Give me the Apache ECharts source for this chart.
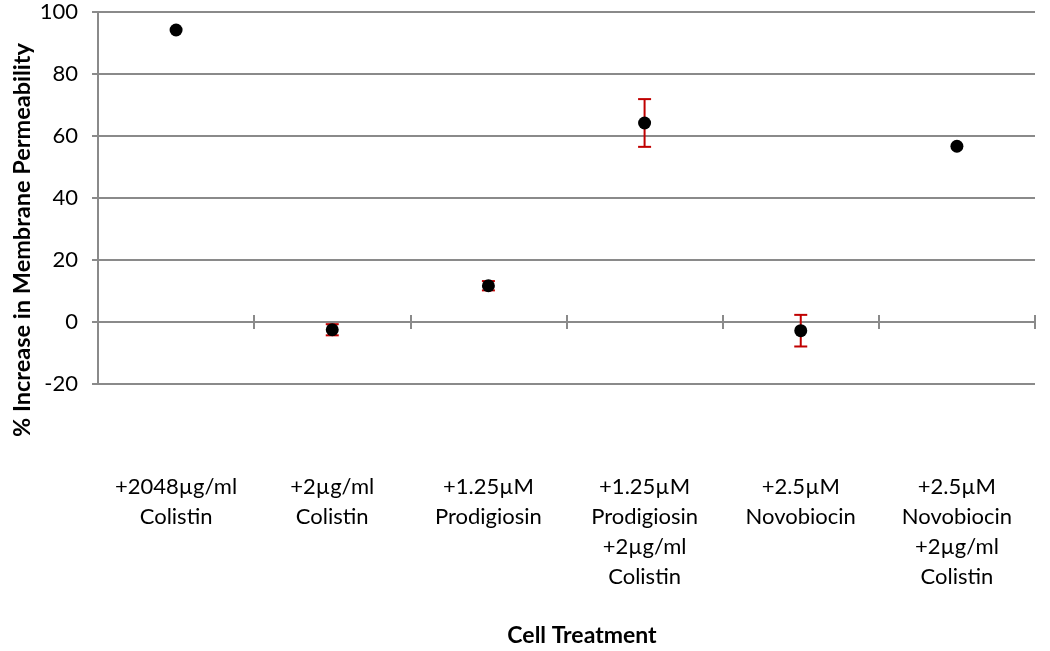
<!DOCTYPE html>
<html><head><meta charset="utf-8">
<script src="https://cdn.jsdelivr.net/npm/echarts@6/dist/echarts.min.js"></script>
<style>html,body{margin:0;padding:0;background:#fff;overflow:hidden}#c{width:1050px;height:651px}</style>
</head><body><div id="c"></div>
<script>
const categories = ['+2048µg/ml\nColistin', '+2µg/ml\nColistin', '+1.25µM\nProdigiosin', '+1.25µM\nProdigiosin\n+2µg/ml\nColistin', '+2.5µM\nNovobiocin', '+2.5µM\nNovobiocin\n+2µg/ml\nColistin'];
const means = [94.2, -2.5, 11.7, 64.2, -2.8, 56.7];
const errors = [0, 1.8, 1.5, 7.7, 5.1, 0];
const yTicks = { min: -20, max: 100, interval: 20 };
const yTitle = '% Increase in Membrane Permeability';
const xTitle = 'Cell Treatment';

const FONT = 'Lato';
const GRAY = '#8a8a8a';
const chart = echarts.init(document.getElementById('c'));
const errData = categories.map((c, i) => [i, means[i], errors[i]]);
chart.setOption({
  animation: false,
  grid: { left: 98, width: 937, top: 12, height: 372, containLabel: false },
  xAxis: [{
    type: 'category', data: categories, position: 'bottom', boundaryGap: true,
    axisLine: { onZero: true, onZeroAxisIndex: 0, lineStyle: { color: GRAY, width: 2 } },
    axisTick: { show: true, interval: 0, length: 7, lineStyle: { color: GRAY, width: 2 } },
    axisLabel: { interval: 0, margin: 88, fontFamily: FONT, fontSize: 22, color: '#000', lineHeight: 30, verticalAlign: 'top' },
    splitLine: { show: false }
  }, {
    type: 'category', data: categories, position: 'top', boundaryGap: true,
    axisLine: { show: false, onZero: true, onZeroAxisIndex: 0 },
    axisTick: { show: true, interval: 0, length: 7, lineStyle: { color: GRAY, width: 2 } },
    axisLabel: { show: false }, splitLine: { show: false }
  }],
  yAxis: {
    type: 'value', min: yTicks.min, max: yTicks.max, interval: yTicks.interval,
    axisLine: { show: true, lineStyle: { color: GRAY, width: 2 } },
    axisTick: { show: true, length: 6, lineStyle: { color: GRAY, width: 2 } },
    axisLabel: { margin: 20, fontFamily: FONT, fontSize: 22, color: '#000' },
    splitLine: { show: true, lineStyle: { color: GRAY, width: 2 } }
  },
  graphic: [
    { type: 'text', x: 22, y: 240, rotation: Math.PI / 2,
      style: { text: yTitle, font: 'bold 23.5px ' + FONT, fill: '#000', textAlign: 'center', textVerticalAlign: 'middle' } },
    { type: 'text', x: 582, y: 636,
      style: { text: xTitle, font: 'bold 23px ' + FONT, fill: '#000', textAlign: 'center', textVerticalAlign: 'middle' } }
  ],
  series: [{
    type: 'custom', xAxisIndex: 0, data: errData, z: 2,
    renderItem: function (params, api) {
      const e = api.value(2);
      if (!e) return null;
      const x = api.coord([api.value(0), 0])[0];
      const top = api.coord([api.value(0), api.value(1) + e])[1];
      const bot = api.coord([api.value(0), api.value(1) - e])[1];
      const w = 6.5;
      const st = { stroke: '#c00000', lineWidth: 2 };
      return { type: 'group', children: [
        { type: 'line', shape: { x1: x, y1: top, x2: x, y2: bot }, style: st },
        { type: 'line', shape: { x1: x - w, y1: top, x2: x + w, y2: top }, style: st },
        { type: 'line', shape: { x1: x - w, y1: bot, x2: x + w, y2: bot }, style: st }
      ] };
    }
  }, {
    type: 'scatter', xAxisIndex: 0, data: means, z: 5, symbol: 'circle', symbolSize: 13,
    itemStyle: { color: '#000', opacity: 1 }
  }]
});
</script></body></html>
